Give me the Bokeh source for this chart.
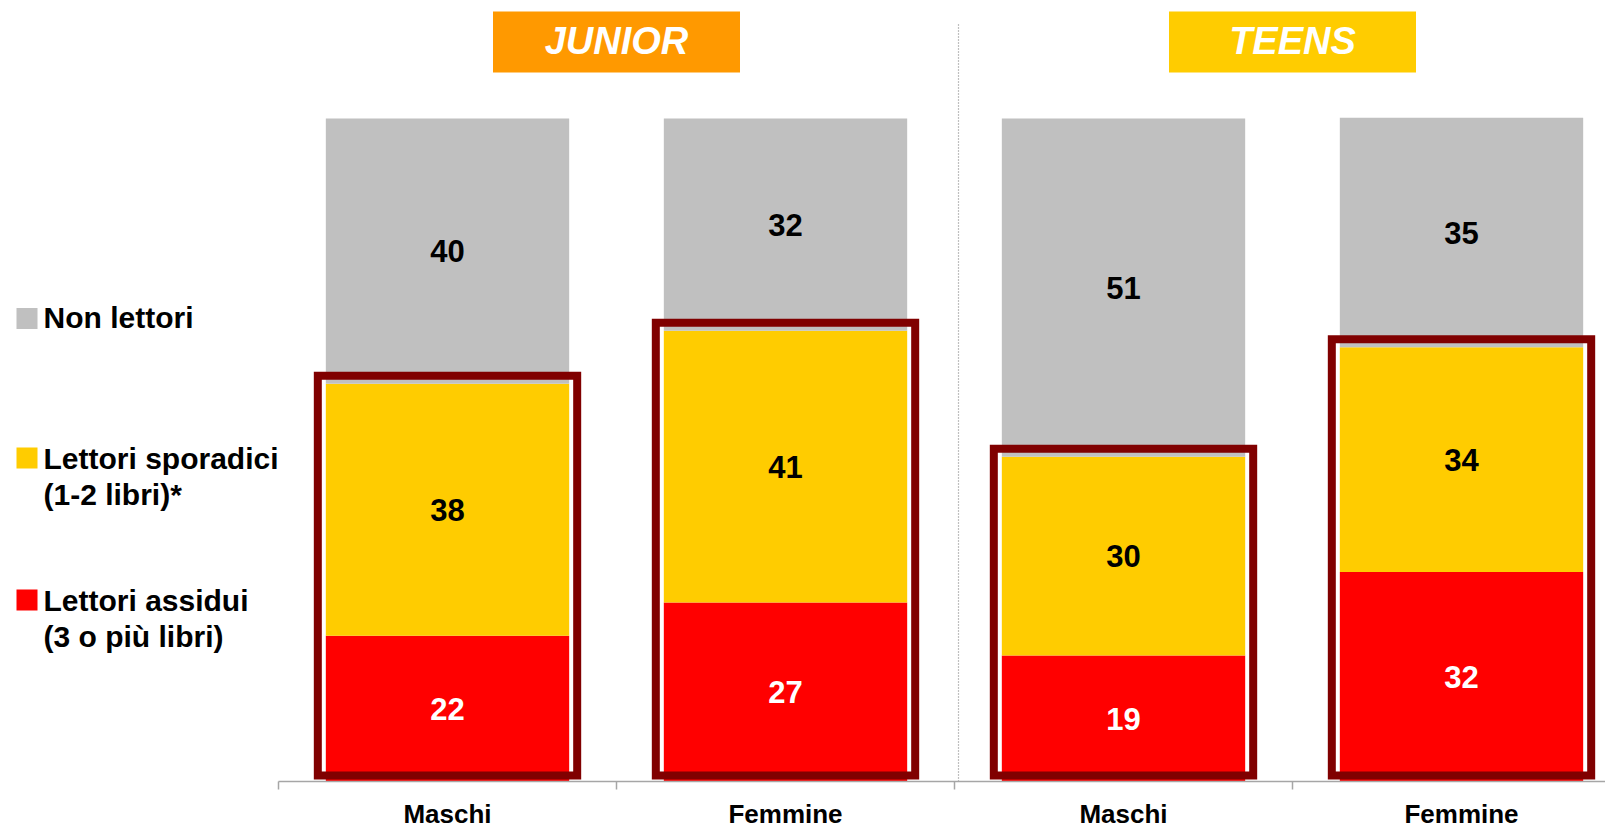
from bokeh.plotting import figure
from bokeh.models import Range1d, FixedTicker, ColumnDataSource
from bokeh.core.properties import value
from bokeh.embed import file_html
from bokeh.resources import INLINE

# ---------------- data ----------------
categories = ["Maschi", "Femmine", "Maschi", "Femmine"]
groups = ["JUNIOR", "TEENS"]
series_names = ["Lettori assidui", "Lettori sporadici", "Non lettori"]
assidui = [22, 27, 19, 31.6]
sporadici = [38, 41, 30, 33.9]
non_lettori = [40, 32, 51, 34.6]
legend_lines = [["Non lettori"],
                ["Lettori sporadici", "(1-2 libri)*"],
                ["Lettori assidui", "(3 o più libri)"]]

# ---------------- style ----------------
C_RED = "#FF0000"
C_YEL = "#FFCC00"
C_GRY = "#C0C0C0"
C_BOX = "#800000"
C_ORANGE = "#FF9900"
FONT = "Liberation Sans"

W, H = 1605, 832
PX_X = 338.0      # pixels per category
PX_Y = 6.63       # pixels per percentage point
BASE = 781.0      # page y of baseline
LEFT0 = 109.0     # page x of x=0
X0, X1 = (0 - LEFT0) / PX_X, (W - LEFT0) / PX_X
Y0, Y1 = 0, BASE / PX_Y


def py(page_y):
    return (BASE - page_y) / PX_Y


def px(page_x):
    return (page_x - LEFT0) / PX_X


xs = [i + 1 for i in range(len(categories))]
b1 = [0] * len(xs)
t1 = assidui
t2 = [a + s for a, s in zip(assidui, sporadici)]
t3 = [a + n for a, n in zip(t2, non_lettori)]

src = ColumnDataSource(dict(
    x=xs, b1=b1, t1=t1, t2=t2, t3=t3,
    m1=[(b + t) / 2 for b, t in zip(b1, t1)],
    m2=[(b + t) / 2 for b, t in zip(t1, t2)],
    m3=[(b + t) / 2 for b, t in zip(t2, t3)],
    l1=[f"{v:.0f}" for v in assidui],
    l2=[f"{v:.0f}" for v in sporadici],
    l3=[f"{v:.0f}" for v in non_lettori],
    ol=[x - 0.3837 for x in xs], orr=[x + 0.3837 for x in xs],
    ob=[6 / PX_Y] * len(xs), ot=[t + 8 / PX_Y for t in t2],
))

p = figure(width=W, height=H, x_range=Range1d(X0, X1), y_range=Range1d(Y0, Y1),
           output_backend="svg", toolbar_location=None,
           min_border_left=0, min_border_right=0, min_border_top=0,
           min_border_bottom=H - int(BASE), y_axis_location=None,
           background_fill_color="white", border_fill_color="white")
p.grid.visible = False
p.outline_line_color = None

ax = p.xaxis[0]
ax.ticker = FixedTicker(ticks=xs, minor_ticks=[0.5, 1.5, 2.5, 3.5])
ax.major_label_overrides = {x: c for x, c in zip(xs, categories)}
ax.bounds = (0.5, X1)
ax.axis_line_color = "#A6A6A6"
ax.axis_line_width = 1.5
ax.major_tick_line_color = None
ax.major_tick_out = 0
ax.major_tick_in = 0
ax.minor_tick_line_color = "#A6A6A6"
ax.minor_tick_line_width = 1.5
ax.minor_tick_out = 8
ax.minor_tick_in = 0
ax.major_label_text_font = FONT
ax.major_label_text_font_style = "bold"
ax.major_label_text_font_size = "26px"
ax.major_label_text_color = "black"
ax.major_label_standoff = 9

# stacked bars
bw = 0.72
p.vbar(x="x", width=bw, bottom="b1", top="t1", source=src, fill_color=C_RED, line_color=None)
p.vbar(x="x", width=bw, bottom="t1", top="t2", source=src, fill_color=C_YEL, line_color=None)
p.vbar(x="x", width=bw, bottom="t2", top="t3", source=src, fill_color=C_GRY, line_color=None)

# reader outline boxes
p.quad(left="ol", right="orr", bottom="ob", top="ot", source=src,
       fill_color=None, line_color=C_BOX, line_width=8, line_join="miter")

# value labels
common = dict(text_font=value(FONT), text_font_style="bold", text_font_size="31px",
              text_align="center", text_baseline="middle")
p.text(x="x", y="m1", text="l1", source=src, text_color="white", **common)
p.text(x="x", y="m2", text="l2", source=src, text_color="black", **common)
p.text(x="x", y="m3", text="l3", source=src, text_color="black", **common)

# group headers
gx = [1.5, 3.5]
p.rect(x=gx, y=[py(41.5)] * 2, width=247, height=61, width_units="screen",
       height_units="screen", fill_color=[C_ORANGE, C_YEL], line_color=None)
p.text(x=gx, y=[py(40)] * 2, text=groups, text_color="white",
       text_font=value(FONT), text_font_style="bold italic", text_font_size="38px",
       text_align="center", text_baseline="middle")

# separator
p.segment(x0=[px(958)], y0=[0], x1=[px(958)], y1=[py(22)],
          line_color="#808080", line_width=1.2, line_dash="1 2")

# legend (custom)
sq_y = [py(318), py(457.5), py(599.5)]
p.rect(x=[px(26.5)] * 3, y=sq_y, width=21, height=21, width_units="screen",
       height_units="screen", fill_color=[C_GRY, C_YEL, C_RED], line_color=None)
base_y = [317, 458, 599.5]
lx, ly, lt = [], [], []
for lines, by in zip(legend_lines, base_y):
    for k, t in enumerate(lines):
        lx.append(px(43))
        ly.append(py(by + 36 * k))
        lt.append(t)
p.text(x=lx, y=ly, text=lt, text_color="black", text_font=value(FONT),
       text_font_style="bold", text_font_size="30px", text_align="left",
       text_baseline="alphabetic")

open("out.html", "w").write(file_html(p, INLINE))
